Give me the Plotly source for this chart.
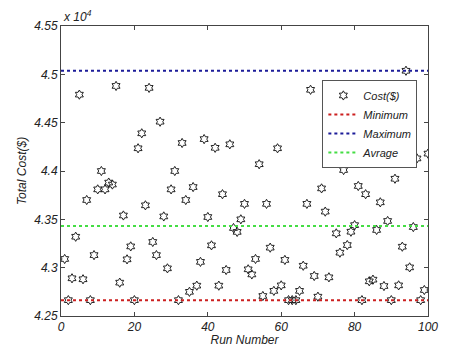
import plotly.graph_objects as go

# ---- data ----
runs = list(range(1, 101))
cost = [43090, 42664, 42890, 43320, 44790, 42880, 43700, 42664, 43130, 43810,
        44000, 43810, 43880, 43860, 44880, 42845, 43540, 43086, 43220, 42664,
        44235, 44390, 43645, 44860, 43266, 43130, 44510, 43530, 42993, 43810,
        44000, 42664, 44290, 43700, 42750, 43834, 42814, 43060, 44330, 43524,
        43231, 44240, 42814, 43760, 42976, 44276, 43410, 43370, 43500, 43660,
        42983, 42930, 43090, 44070, 42707, 43660, 43207, 42760, 44235, 42817,
        43080, 42664, 42664, 42664, 42760, 43020, 43660, 44840, 42914, 42700,
        43820, 43580, 42900, 44500, 43355, 43155, 44010, 43234, 43372, 43440,
        43845, 42664, 43760, 42859, 42876, 43390, 43676, 42810, 43483, 42664,
        43920, 42817, 43217, 45037, 43003, 43420, 44130, 42664, 42769, 44180]
min_cost = 42664
max_cost = 45037
avg_cost = 43430
line_x = [0, 100]
x_ticks = [0, 20, 40, 60, 80, 100]
y_tick_vals = [42500, 43000, 43500, 44000, 44500, 45000, 45500]
y_tick_text = ["4.25", "4.3", "4.35", "4.4", "4.45", "4.5", "4.55"]

FONT = "Liberation Sans, Arial, sans-serif"
AX = "#444444"

fig = go.Figure()
fig.add_trace(go.Scatter(x=runs, y=cost, mode="markers", name="Cost($)",
                         marker=dict(symbol="hexagram-open", size=7,
                                     color="#222222", line=dict(width=1, color="#222222"))))
fig.add_trace(go.Scatter(x=line_x, y=[min_cost, min_cost], mode="lines", name="Minimum",
                         line=dict(color="#cc1f1f", width=2, dash="dot")))
fig.add_trace(go.Scatter(x=line_x, y=[max_cost, max_cost], mode="lines", name="Maximum",
                         line=dict(color="#1c1c99", width=2, dash="dot")))
fig.add_trace(go.Scatter(x=line_x, y=[avg_cost, avg_cost], mode="lines", name="Avrage",
                         line=dict(color="#44dd44", width=2, dash="dot")))

# page body adds an 8px margin, so the figure is made 16px smaller and shifted
fig.update_layout(
    width=456, height=339,
    margin=dict(l=53, r=36, t=18, b=31, autoexpand=False),
    paper_bgcolor="white", plot_bgcolor="white",
    font=dict(family=FONT, size=12, color="#222222", style="italic"),
    showlegend=True,
    legend=dict(x=0.971, y=0.814, xanchor="right", yanchor="top",
                bgcolor="white", bordercolor="#555555", borderwidth=1,
                font=dict(family=FONT, size=11, style="italic", color="#222222"),
                tracegroupgap=0, itemwidth=30),
    xaxis=dict(range=[0, 100], tickvals=x_ticks, ticks="inside", ticklen=4,
               tickcolor=AX, showline=True, linecolor=AX, linewidth=1, mirror="allticks",
               showgrid=False, zeroline=False, automargin=False,
               title=dict(text="Run Number", standoff=0,
                          font=dict(family=FONT, size=12, style="italic"))),
    yaxis=dict(range=[42500, 45500], tickvals=y_tick_vals, ticktext=y_tick_text,
               ticks="inside", ticklen=4, tickcolor=AX,
               showline=True, linecolor=AX, linewidth=1, mirror="allticks",
               showgrid=False, zeroline=False, automargin=False,
               title=dict(text="Total Cost($)", standoff=5,
                          font=dict(family=FONT, size=12, style="italic"))),
    annotations=[dict(text="x 10<sup>4</sup>", xref="paper", yref="paper",
                      x=0.0, y=1.0, xanchor="left", yanchor="bottom", showarrow=False,
                      font=dict(family=FONT, size=12, style="italic", color="#222222"))],
)

fig.write_html("out.html")
